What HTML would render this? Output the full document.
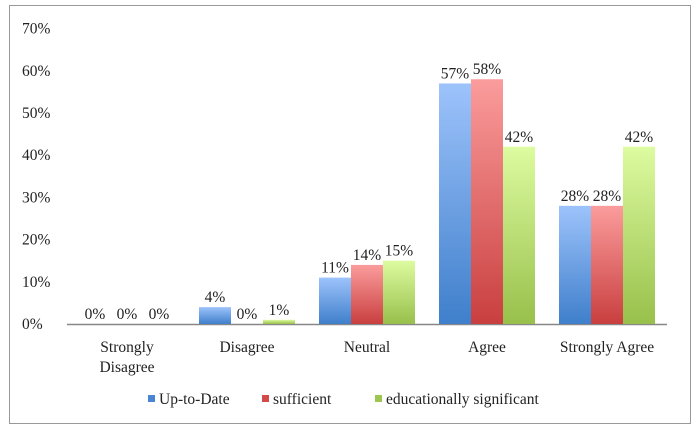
<!DOCTYPE html>
<html><head><meta charset="utf-8"><style>
body{margin:0;background:#fff;}
svg text{font-family:"Liberation Serif",serif;font-size:15.5px;fill:#222;}
</style></head><body>
<svg width="700" height="434">
<defs>
<linearGradient id="gb" x1="0" y1="0" x2="0" y2="1"><stop offset="0" stop-color="#9dc3fb"/><stop offset="1" stop-color="#3f7fcb"/></linearGradient>
<linearGradient id="gr" x1="0" y1="0" x2="0" y2="1"><stop offset="0" stop-color="#fb9c9c"/><stop offset="1" stop-color="#c93f3f"/></linearGradient>
<linearGradient id="gg" x1="0" y1="0" x2="0" y2="1"><stop offset="0" stop-color="#ddfba0"/><stop offset="1" stop-color="#98c04b"/></linearGradient>
</defs>
<rect x="9.5" y="5.5" width="681" height="418" fill="#fff" stroke="#999"/>
<g id="g"></g>
</svg>
<script>
const categories=["Strongly Disagree","Disagree","Neutral","Agree","Strongly Agree"];
const upToDate=[0,4,11,57,28];
const sufficient=[0,0,14,58,28];
const educational=[0,1,15,42,42];
const yTicks=[0,10,20,30,40,50,60,70];
const seriesNames=["Up-to-Date","sufficient","educationally significant"];
const NS="http://www.w3.org/2000/svg";
const g=document.getElementById('g');
const x0=67,cw=120,y0=324,k=4.22,bw=32;
const y=v=>y0-v*k;
const xc=i=>x0+cw*(i+0.5);
function mk(t,a,p){const e=document.createElementNS(NS,t);for(const n in a)e.setAttribute(n,a[n]);(p||g).appendChild(e);return e;}
yTicks.forEach(t=>{const e=mk('text',{x:22,y:y(t)+5});e.textContent=t+'%';

});
const ax=mk('line',{x1:x0,y1:y0+0.5,x2:x0+cw*5,y2:y0+0.5,stroke:'#888','stroke-width':1.5});


const series=[upToDate,sufficient,educational],fills=['url(#gb)','url(#gr)','url(#gg)'],nm=['bar-up-to-date','bar-sufficient','bar-educational'];
categories.forEach((c,i)=>{
 series.forEach((s,j)=>{
  const bx=xc(i)-1.5*bw+j*bw;
  const r=mk('rect',{x:bx,y:y(s[i]),width:bw,height:s[i]*k,fill:fills[j]});
  
  
  const t=mk('text',{x:bx+bw/2,y:y(s[i])-5,'text-anchor':'middle'});t.textContent=s[i]+'%';
  
  
 });
 const lines=c==="Strongly Disagree"?["Strongly","Disagree"]:[c];
 lines.forEach((l,n)=>{const t=mk('text',{x:xc(i),y:352+n*20,'text-anchor':'middle'});t.textContent=l;
 
 });
});
const lx=[148,262,375],lc=['#4a85d4','#d24a4a','#9cc64f'];
seriesNames.forEach((n,j)=>{
 const r=mk('rect',{x:lx[j],y:395,width:7,height:7,fill:lc[j]});
 
 
 const t=mk('text',{x:lx[j]+11,y:404});t.textContent=n;
 
 
});
</script>
</body></html>
